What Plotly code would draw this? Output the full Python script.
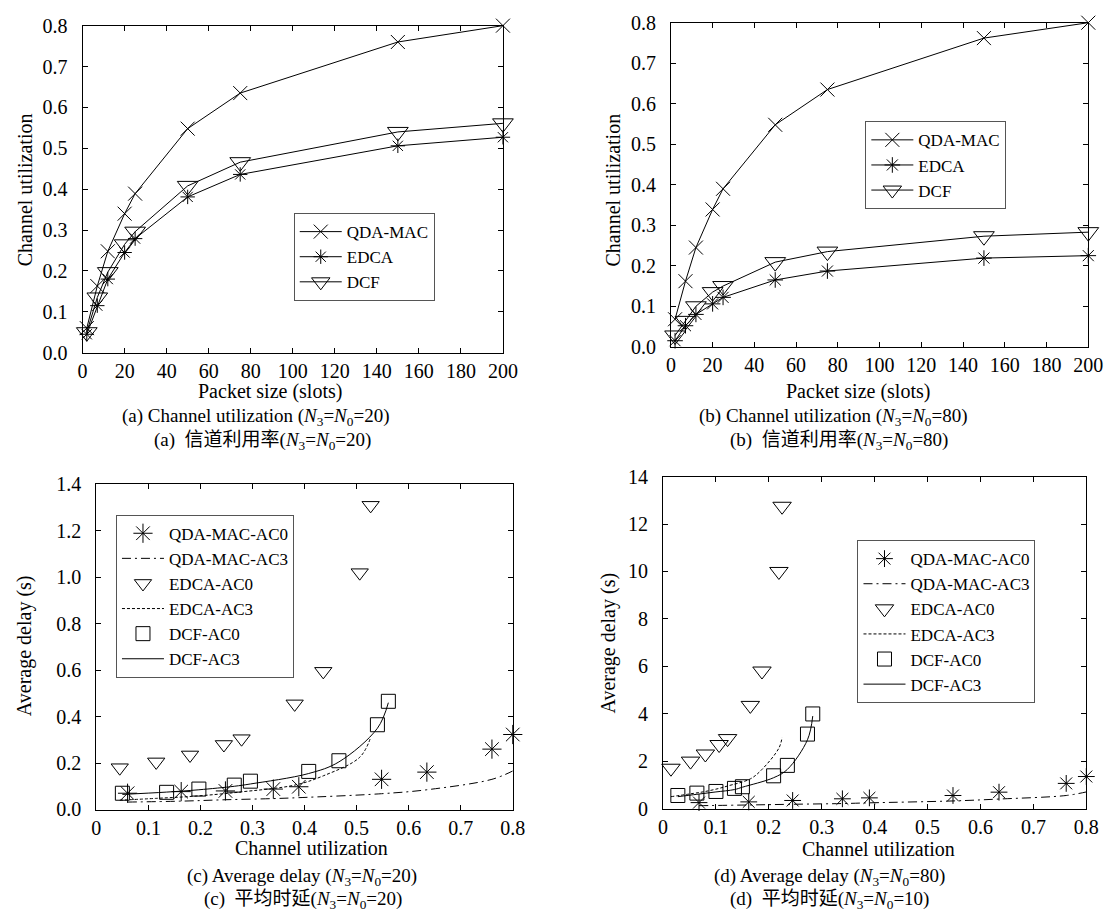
import plotly.graph_objects as go

# ---------------- data ----------------
packet_size = [2, 7, 12, 20, 25, 50, 75, 150, 200]

# (a) N3=N0=20 channel utilization
util_a_qda = [0.060, 0.163, 0.248, 0.340, 0.389, 0.548, 0.635, 0.760, 0.800]
util_a_edca = [0.045, 0.115, 0.180, 0.245, 0.279, 0.381, 0.436, 0.506, 0.527]
util_a_dcf = [0.050, 0.135, 0.197, 0.265, 0.296, 0.408, 0.466, 0.540, 0.561]

# (b) N3=N0=80 channel utilization
util_b_qda = [0.068, 0.162, 0.245, 0.339, 0.390, 0.548, 0.635, 0.762, 0.800]
util_b_edca = [0.015, 0.052, 0.080, 0.106, 0.122, 0.165, 0.187, 0.219, 0.225]
util_b_dcf = [0.028, 0.064, 0.100, 0.135, 0.150, 0.209, 0.235, 0.273, 0.283]

# (c) average delay (s), N3=N0=20
delay_c_qda_ac0 = [0.070, 0.077, 0.080, 0.088, 0.098, 0.130, 0.161, 0.260, 0.323]
delay_c_qda_ac3 = [0.032, 0.036, 0.042, 0.047, 0.051, 0.068, 0.085, 0.130, 0.166]
delay_c_edca_ac0 = [0.180, 0.205, 0.235, 0.280, 0.305, 0.455, 0.595, 1.020, 1.310]
delay_c_edca_ac3 = [0.040, 0.048, 0.056, 0.068, 0.076, 0.105, 0.145, 0.225, 0.310]
delay_c_dcf_ac0 = [0.070, 0.074, 0.088, 0.105, 0.122, 0.164, 0.210, 0.365, 0.466]
delay_c_dcf_ac3 = [0.065, 0.075, 0.085, 0.100, 0.110, 0.155, 0.205, 0.350, 0.460]

# (d) average delay (s), N3=N0=80
delay_d_qda_ac0 = [0.25, 0.28, 0.34, 0.41, 0.45, 0.55, 0.69, 1.06, 1.35]
delay_d_qda_ac3 = [0.12, 0.15, 0.18, 0.21, 0.24, 0.32, 0.40, 0.55, 0.70]
delay_d_edca_ac0 = [1.70, 2.00, 2.30, 2.70, 2.95, 4.35, 5.80, 10.0, 12.75]
delay_d_edca_ac3 = [0.50, 0.62, 0.72, 0.85, 0.95, 1.25, 1.65, 2.55, 3.00]
delay_d_dcf_ac0 = [0.55, 0.65, 0.72, 0.85, 0.92, 1.38, 1.82, 3.14, 3.99]
delay_d_dcf_ac3 = [0.50, 0.60, 0.70, 0.80, 0.90, 1.30, 1.65, 2.90, 3.90]

# ---------------- layout helpers ----------------
W, H = 1119, 923
FONT = "'Liberation Serif', 'Times New Roman', 'Noto Sans CJK SC', serif"
FS = 20
CAP_FS = 19
LEG_FS = 17


def px(x):
    return x / W


def py(y):
    return 1 - y / H


def axis_style(**kw):
    d = dict(showline=True, linecolor="black", linewidth=1, mirror="ticks",
             ticks="inside", ticklen=5, tickcolor="black", tickwidth=1,
             showgrid=False, zeroline=False,
             tickfont=dict(family=FONT, size=FS, color="black"))
    d.update(kw)
    return d


fig = go.Figure()

BLACK = "black"


def line_marker(x, y, name, symbol, size, xa, ya, leg):
    return go.Scatter(x=x, y=y, name=name, mode="lines+markers",
                      line=dict(color=BLACK, width=1),
                      marker=dict(symbol=symbol, size=size, color=BLACK,
                                  line=dict(color=BLACK, width=1)),
                      xaxis=xa, yaxis=ya, legend=leg, cliponaxis=False)


def markers(x, y, name, symbol, size, xa, ya, leg):
    return go.Scatter(x=x, y=y, name=name, mode="markers",
                      marker=dict(symbol=symbol, size=size, color=BLACK,
                                  line=dict(color=BLACK, width=1)),
                      xaxis=xa, yaxis=ya, legend=leg, cliponaxis=False)


def curve(x, y, name, dash, xa, ya, leg):
    return go.Scatter(x=x, y=y, name=name, mode="lines",
                      line=dict(color=BLACK, width=1, dash=dash, shape="spline"),
                      xaxis=xa, yaxis=ya, legend=leg, cliponaxis=False)


# (a)
fig.add_trace(line_marker(packet_size, util_a_qda, "QDA-MAC", "x-thin-open", 14, "x", "y", "legend"))
fig.add_trace(line_marker(packet_size, util_a_edca, "EDCA", "asterisk-open", 12, "x", "y", "legend"))
fig.add_trace(line_marker(packet_size, util_a_dcf, "DCF", "triangle-down-open", 18, "x", "y", "legend"))

# (b)
fig.add_trace(line_marker(packet_size, util_b_qda, "QDA-MAC", "x-thin-open", 14, "x2", "y2", "legend2"))
fig.add_trace(line_marker(packet_size, util_b_edca, "EDCA", "asterisk-open", 13, "x2", "y2", "legend2"))
fig.add_trace(line_marker(packet_size, util_b_dcf, "DCF", "triangle-down-open", 18, "x2", "y2", "legend2"))

DASHDOT = "9px,4px,2px,4px"
DOTTED = "3px,2px"

# (c)
fig.add_trace(markers(util_a_qda, delay_c_qda_ac0, "QDA-MAC-AC0", "asterisk-open", 16, "x3", "y3", "legend3"))
fig.add_trace(curve(util_a_qda, delay_c_qda_ac3, "QDA-MAC-AC3", DASHDOT, "x3", "y3", "legend3"))
fig.add_trace(markers(util_a_edca, delay_c_edca_ac0, "EDCA-AC0", "triangle-down-open", 15, "x3", "y3", "legend3"))
fig.add_trace(curve(util_a_edca, delay_c_edca_ac3, "EDCA-AC3", DOTTED, "x3", "y3", "legend3"))
fig.add_trace(markers(util_a_dcf, delay_c_dcf_ac0, "DCF-AC0", "square-open", 14, "x3", "y3", "legend3"))
fig.add_trace(curve(util_a_dcf, delay_c_dcf_ac3, "DCF-AC3", "solid", "x3", "y3", "legend3"))

# (d)
fig.add_trace(markers(util_b_qda, delay_d_qda_ac0, "QDA-MAC-AC0", "asterisk-open", 14, "x4", "y4", "legend4"))
fig.add_trace(curve(util_b_qda, delay_d_qda_ac3, "QDA-MAC-AC3", DASHDOT, "x4", "y4", "legend4"))
fig.add_trace(markers(util_b_edca, delay_d_edca_ac0, "EDCA-AC0", "triangle-down-open", 16, "x4", "y4", "legend4"))
fig.add_trace(curve(util_b_edca, delay_d_edca_ac3, "EDCA-AC3", DOTTED, "x4", "y4", "legend4"))
fig.add_trace(markers(util_b_dcf, delay_d_dcf_ac0, "DCF-AC0", "square-open", 14, "x4", "y4", "legend4"))
fig.add_trace(curve(util_b_dcf, delay_d_dcf_ac3, "DCF-AC3", "solid", "x4", "y4", "legend4"))


def legend_style(x, y):
    return dict(x=px(x), y=py(y), xanchor="left", yanchor="top",
                bgcolor="white", bordercolor="#555", borderwidth=1,
                font=dict(family=FONT, size=LEG_FS, color="black"),
                tracegroupgap=0, itemwidth=42)


sub = "(<i>N</i><sub>3</sub>=<i>N</i><sub>0</sub>={})"

annotations = []


def ann(text, x, y, angle=0, size=FS):
    annotations.append(dict(text=text, x=px(x), y=py(y), xref="paper", yref="paper",
                            xanchor="center", yanchor="middle", showarrow=False,
                            textangle=angle,
                            font=dict(family=FONT, size=size, color="black")))


# (a)
ann("Channel utilization", 20, 183, -90)
ann("Packet size (slots)", 270, 390)
ann("(a) Channel utilization " + sub.format(20), 255, 416, size=CAP_FS)
ann("(a)  信道利用率" + sub.format(20), 262, 440, size=CAP_FS)
# (b)
ann("Channel utilization", 619, 183, -90)
ann("Packet size (slots)", 869, 390)
ann("(b) Channel utilization " + sub.format(80), 844, 416, size=CAP_FS)
ann("(b)  信道利用率" + sub.format(80), 849, 440, size=CAP_FS)
# (c)
ann("Average delay (s)", 20, 650, -90)
ann("Channel utilization", 312, 857)
ann("(c) Average delay " + sub.format(20), 302, 887, size=CAP_FS)
ann("(c)  平均时延" + sub.format(20), 303, 911, size=CAP_FS)
# (d)
ann("Average delay (s)", 615, 648, -90)
ann("Channel utilization", 889, 858)
ann("(d) Average delay " + sub.format(80), 840, 887, size=CAP_FS)
ann("(d)  平均时延" + sub.format(10), 839, 911, size=CAP_FS)

fig.update_layout(
    width=W, height=H, margin=dict(l=0, r=0, t=0, b=0),
    paper_bgcolor="white", plot_bgcolor="white",
    font=dict(family=FONT, size=FS, color="black"),
    showlegend=True,
    xaxis=axis_style(domain=[px(79), px(507)], range=[0, 200], dtick=20, anchor="y"),
    yaxis=axis_style(domain=[py(350), py(15)], range=[0, 0.8], dtick=0.1, tickformat=".1f",
                     anchor="x", ticklabelstandoff=10),
    xaxis2=axis_style(domain=[px(678), px(1103)], range=[0, 200], dtick=20, anchor="y2"),
    yaxis2=axis_style(domain=[py(344), py(12)], range=[0, 0.8], dtick=0.1, tickformat=".1f",
                      anchor="x2", ticklabelstandoff=10),
    xaxis3=axis_style(domain=[px(93), px(517)], range=[0, 0.8], dtick=0.1, anchor="y3"),
    yaxis3=axis_style(domain=[py(818), py(485)], range=[0, 1.4], dtick=0.2, tickformat=".1f",
                      anchor="x3", ticklabelstandoff=10),
    xaxis4=axis_style(domain=[px(670), px(1101)], range=[0, 0.8], dtick=0.1, anchor="y4"),
    yaxis4=axis_style(domain=[py(817), py(477)], range=[0, 14], dtick=2,
                      anchor="x4", ticklabelstandoff=10),
    legend=legend_style(294, 207),
    legend2=legend_style(876, 113),
    legend3=legend_style(113, 516),
    legend4=legend_style(868, 542),
    annotations=annotations,
)

fig.write_html("out.html", config={"displayModeBar": False},
               post_script="document.body.style.margin='0px';")
